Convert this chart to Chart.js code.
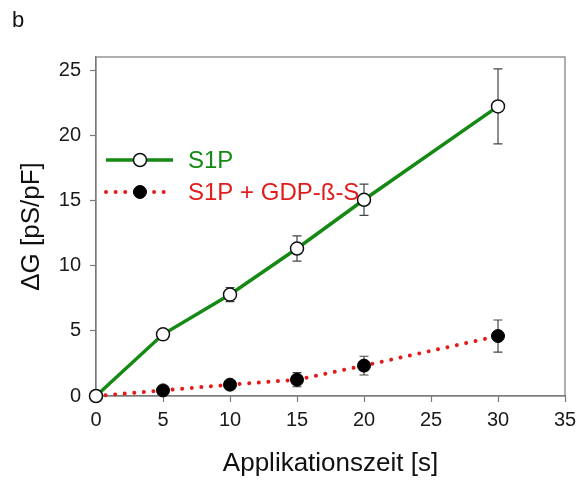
<!DOCTYPE html>
<html>
<head>
<meta charset="utf-8">
<script src="https://cdn.jsdelivr.net/npm/chart.js@4.4.0/dist/chart.umd.min.js"></script>
<style>
  html, body { margin: 0; padding: 0; background: #fff; }
  #wrap { position: relative; width: 579px; height: 481px; }
  #panel { position: absolute; left: 12px; top: 7px; font: 22px "Liberation Sans", Arial, sans-serif; color: #111; }
</style>
</head>
<body>
<div id="wrap">
  <canvas id="chart" width="579" height="481"></canvas>
  <div id="panel">b</div>
</div>
<script>
// Data
const times = [0, 5, 10, 15, 20, 30];
const s1p = [0, 4.73, 7.78, 11.31, 15.05, 22.21];
const s1pErr = [0, 0.2, 0.54, 0.97, 1.2, 2.88];
const gdp = [0, 0.43, 0.87, 1.25, 2.33, 4.6];
const gdpErr = [0, 0.15, 0.3, 0.54, 0.72, 1.23];
const xTicks = [0, 5, 10, 15, 20, 25, 30, 35];
const yTicks = [0, 5, 10, 15, 20, 25];
const seriesNames = ['S1P', 'S1P + GDP-ß-S'];

const FONT = '"Liberation Sans", Arial, sans-serif';
const GREEN = '#148a14';
const RED = '#e21b1b';
const AXIS = '#7a7a7a';

const toPoints = (ys) => times.map((t, i) => ({ x: t, y: ys[i] }));

// Error bars, drawn under the markers
const errorBars = {
    id: 'errorBars',
    beforeDatasetsDraw(chart) {
        const { ctx, scales: { x, y } } = chart;
        const sets = [[s1p, s1pErr], [gdp, gdpErr]];
        ctx.save();
        ctx.strokeStyle = '#444';
        ctx.lineWidth = 1.2;
        sets.forEach(([vals, errs]) => {
            times.forEach((t, i) => {
                if (!errs[i]) return;
                const px = x.getPixelForValue(t);
                const top = y.getPixelForValue(vals[i] + errs[i]);
                const bot = y.getPixelForValue(vals[i] - errs[i]);
                ctx.beginPath();
                ctx.moveTo(px, top); ctx.lineTo(px, bot);
                ctx.moveTo(px - 4.5, top); ctx.lineTo(px + 4.5, top);
                ctx.moveTo(px - 4.5, bot); ctx.lineTo(px + 4.5, bot);
                ctx.stroke();
            });
        });
        ctx.restore();
    }
};

// Box frame around the plot area
const frame = {
    id: 'frame',
    beforeDatasetsDraw(chart) {
        const { ctx, chartArea: a } = chart;
        ctx.save();
        ctx.strokeStyle = AXIS;
        ctx.lineWidth = 1.2;
        ctx.strokeRect(a.left, a.top, a.right - a.left, a.bottom - a.top);
        ctx.restore();
    }
};

// Legend inside the plot, line with marker in the middle
const innerLegend = {
    id: 'innerLegend',
    afterDraw(chart) {
        const { ctx } = chart;
        const rows = [160, 192];
        ctx.save();
        chart.data.datasets.forEach((ds, i) => {
            const y = rows[i];
            ctx.beginPath();
            ctx.strokeStyle = ds.borderColor;
            ctx.lineWidth = ds.borderWidth;
            ctx.lineCap = ds.borderCapStyle || 'butt';
            ctx.setLineDash(ds.borderDash || []);
            ctx.moveTo(106, y); ctx.lineTo(173, y);
            ctx.stroke();
            ctx.setLineDash([]);
            ctx.beginPath();
            ctx.arc(140, y, ds.pointRadius, 0, Math.PI * 2);
            ctx.fillStyle = ds.pointBackgroundColor;
            ctx.fill();
            ctx.lineWidth = ds.pointBorderWidth;
            ctx.strokeStyle = ds.pointBorderColor;
            ctx.stroke();
            ctx.fillStyle = ds.borderColor;
            ctx.font = '24px ' + FONT;
            ctx.textBaseline = 'middle';
            ctx.fillText(ds.label, 188, y + 1);
        });
        ctx.restore();
    }
};

new Chart(document.getElementById('chart'), {
    type: 'line',
    data: {
        datasets: [
            {
                label: seriesNames[0],
                data: toPoints(s1p),
                borderColor: GREEN,
                borderWidth: 3.5,
                pointRadius: 6.5,
                pointBackgroundColor: '#fff',
                pointBorderColor: '#111',
                pointBorderWidth: 1.5
            },
            {
                label: seriesNames[1],
                data: toPoints(gdp),
                borderColor: RED,
                borderWidth: 4,
                borderDash: [0.01, 9.6],
                borderCapStyle: 'round',
                pointRadius: 6.5,
                pointBackgroundColor: '#000',
                pointBorderColor: '#000',
                pointBorderWidth: 1
            }
        ]
    },
    options: {
        responsive: false,
        animation: false,
        clip: false,
        layout: { padding: { top: 57, right: 14, left: 0, bottom: 0 } },
        plugins: { legend: { display: false }, tooltip: { enabled: false } },
        scales: {
            x: {
                type: 'linear',
                min: 0, max: 35,
                afterBuildTicks: s => { s.ticks = xTicks.map(v => ({ value: v })); },
                afterFit: s => { s.height = 85; s.paddingLeft = 0; s.paddingRight = 0; },
                grid: { drawOnChartArea: false, color: AXIS, tickLength: 6, tickWidth: 1.2 },
                border: { color: AXIS, width: 1.2 },
                ticks: { color: '#1a1a1a', font: { family: FONT, size: 20 }, padding: 6, maxRotation: 0 },
                title: { display: true, text: 'Applikationszeit [s]', color: '#111', font: { family: FONT, size: 26 }, padding: { top: 0, bottom: 2 } }
            },
            y: {
                type: 'linear',
                min: 0, max: 26,
                afterBuildTicks: s => { s.ticks = yTicks.map(v => ({ value: v })); },
                afterFit: s => { s.width = 96; s.paddingTop = 0; s.paddingBottom = 0; },
                grid: { drawOnChartArea: false, color: AXIS, tickLength: 6, tickWidth: 1.2 },
                border: { color: AXIS, width: 1.2 },
                ticks: { color: '#1a1a1a', font: { family: FONT, size: 20 }, padding: 9 },
                title: { display: true, text: 'ΔG [pS/pF]', color: '#111', font: { family: FONT, size: 26 }, padding: { top: 16, bottom: 0 } }
            }
        }
    },
    plugins: [frame, errorBars, innerLegend]
});
</script>
</body>
</html>
